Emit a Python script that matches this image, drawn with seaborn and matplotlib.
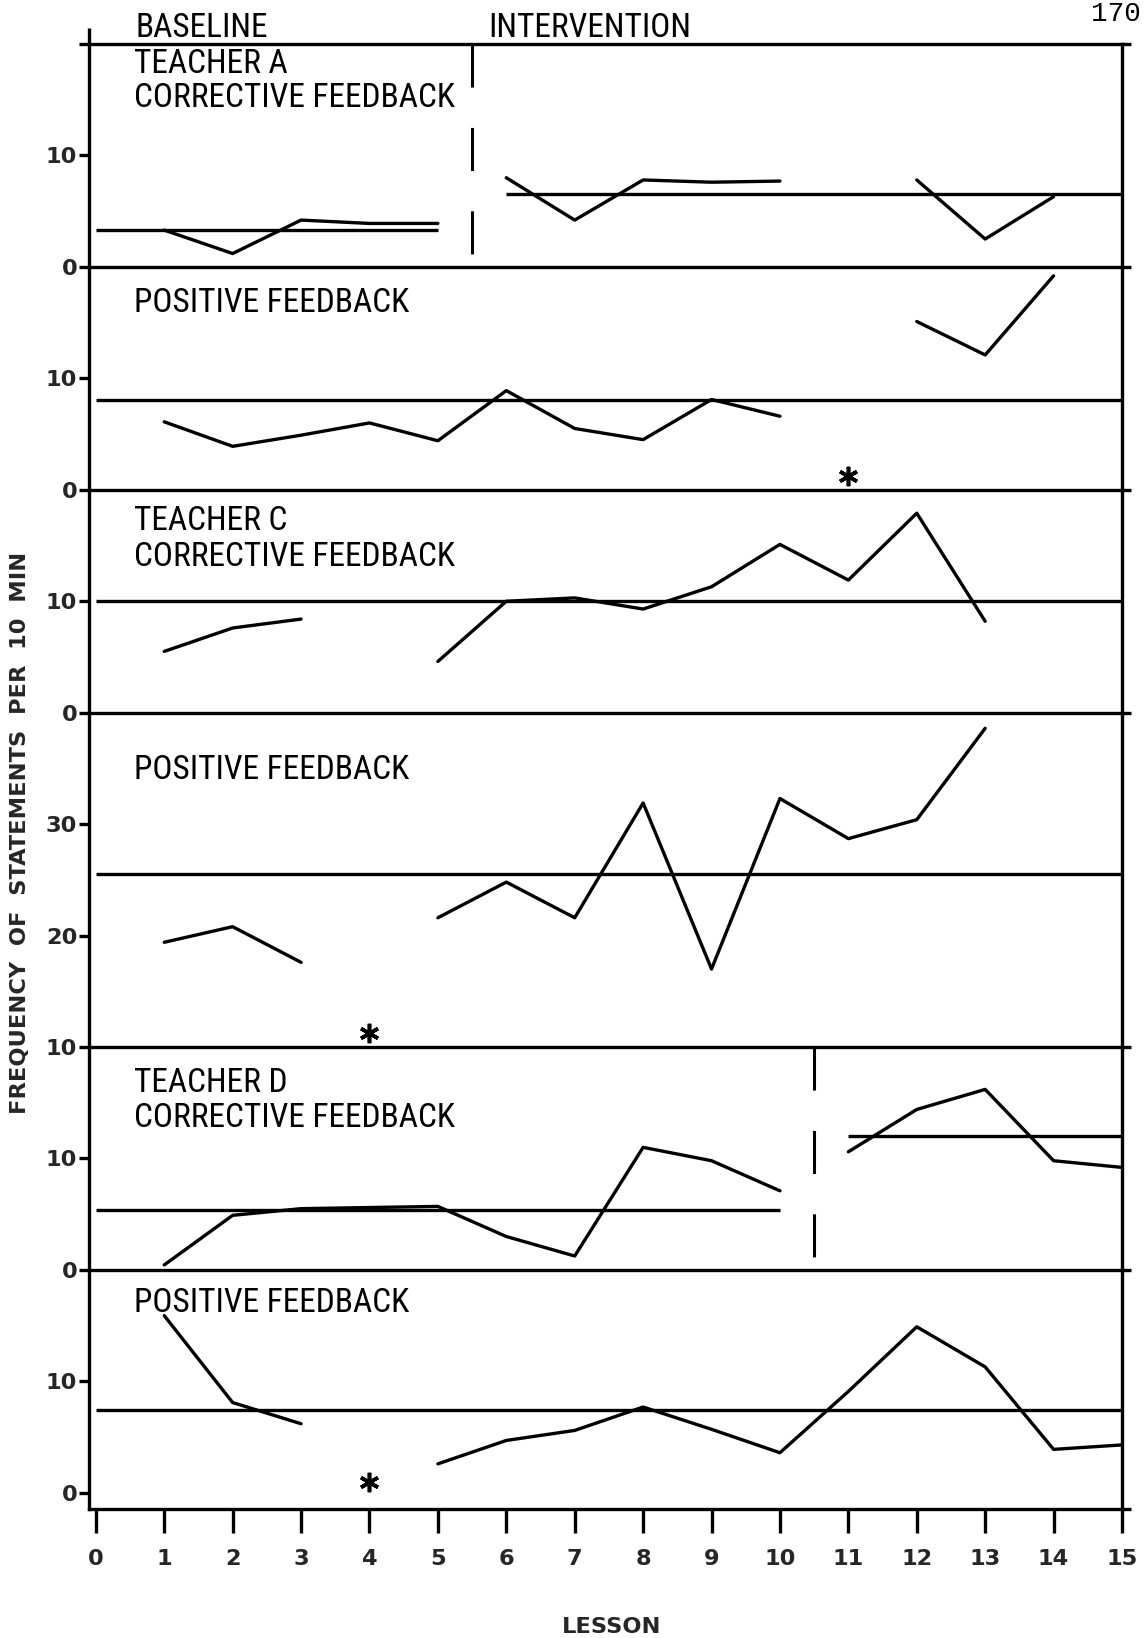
import numpy as np
import pandas as pd
import matplotlib
matplotlib.use("Agg")
import matplotlib.pyplot as plt
import seaborn as sns

# ---------------------------------------------------------------------------
# Frequency of statements per 10 minutes, lessons 1-15 (nan = no observation)
# ---------------------------------------------------------------------------
lessons = list(range(1, 16))
nan = np.nan

a_corrective = [3.3, 1.2, 4.2, 3.9, 3.9, 8.0, 4.2, 7.8, 7.6, 7.7, nan, 7.8, 2.5, 6.3, nan]
a_positive = [6.1, 3.9, 4.9, 6.0, 4.4, 8.9, 5.5, 4.5, 8.1, 6.6, nan, 15.1, 12.1, 19.2, nan]
c_corrective = [5.5, 7.6, 8.4, nan, 4.6, 10.0, 10.3, 9.3, 11.3, 15.1, 11.9, 17.9, 8.2, nan, nan]
c_positive = [19.4, 20.8, 17.6, nan, 21.6, 24.8, 21.6, 31.9, 17.0, 32.3, 28.7, 30.4, 38.6, nan, nan]
d_corrective = [0.45, 4.9, 5.5, 5.6, 5.7, 3.0, 1.25, 11.0, 9.8, 7.1, 10.6, 14.4, 16.2, 9.8, 9.2]
d_positive = [15.9, 8.1, 6.2, nan, 2.6, 4.7, 5.6, 7.7, 5.7, 3.6, 9.1, 14.9, 11.3, 3.9, 4.3]

# Phase mean lines: (from lesson, to lesson, mean)
a_corrective_means = [(0, 5, 3.3), (6, 15, 6.5)]
a_positive_means = [(0, 15, 8.1)]
c_corrective_means = [(0, 15, 10.0)]
c_positive_means = [(0, 15, 25.5)]
d_corrective_means = [(0, 10, 5.4), (11, 15, 12.0)]
d_positive_means = [(0, 15, 7.4)]

# Baseline -> intervention change for Teachers A and D
a_phase_change = 5.5
d_phase_change = 10.5

# Asterisk notes: (lesson, height)
a_positive_note = [(11, 1.2)]
c_positive_note = [(4, 11.25)]
d_positive_note = [(4, 1.0)]

panel_titles = [
    ["TEACHER A", "CORRECTIVE FEEDBACK"],
    ["POSITIVE FEEDBACK"],
    ["TEACHER C", "CORRECTIVE FEEDBACK"],
    ["POSITIVE FEEDBACK"],
    ["TEACHER D", "CORRECTIVE FEEDBACK"],
    ["POSITIVE FEEDBACK"],
]
x_ticks = list(range(0, 16))

# ---------------------------------------------------------------------------
sns.set_theme(style="white")
plt.rcParams["font.family"] = ["DejaVu Sans"]

W, H = 1144, 1638
fig = plt.figure(figsize=(W / 100, H / 100), dpi=100)
fig.patch.set_facecolor("white")

LW = 2.4
INK = "black"
label_font = dict(family=["Roboto Condensed", "Liberation Sans Narrow", "Liberation Sans"],
                  fontsize=24, color=INK)
tick_font = dict(family=["DejaVu Sans"], fontweight="bold", fontsize=16.2)

gs = fig.add_gridspec(
    6, 1, height_ratios=[20, 20, 20, 30, 20, 21.45], hspace=0,
    left=89 / W, right=1122 / W, top=1 - 44 / H, bottom=1 - 1509 / H,
)
axes = [fig.add_subplot(gs[i]) for i in range(6)]

panels = [
    (a_corrective, a_corrective_means, a_phase_change, []),
    (a_positive, a_positive_means, None, a_positive_note),
    (c_corrective, c_corrective_means, None, []),
    (c_positive, c_positive_means, None, c_positive_note),
    (d_corrective, d_corrective_means, d_phase_change, []),
    (d_positive, d_positive_means, None, d_positive_note),
]
ylims = [(0, 20), (0, 20), (0, 20), (10, 40), (0, 20), (-1.45, 20)]
yticks = [[0, 10, 20], [0, 10], [0, 10], [10, 20, 30], [0, 10], [0, 10]]


def segments(values, phase_change):
    """Split a series into connected runs, broken by gaps and phase changes."""
    rows, seg, prev = [], 0, None
    for x, v in zip(lessons, values):
        if np.isnan(v):
            prev = None
            continue
        if prev is None or (phase_change is not None and prev < phase_change < x):
            seg += 1
        rows.append({"lesson": x, "value": v, "segment": seg})
        prev = x
    return pd.DataFrame(rows)


for i, (ax, (vals, means, phase, notes)) in enumerate(zip(axes, panels)):
    ax.patch.set_visible(False)
    df = segments(vals, phase)
    sns.lineplot(data=df, x="lesson", y="value", units="segment", estimator=None,
                 color=INK, lw=LW, ax=ax, legend=False, sort=True)
    for x0, x1, m in means:
        ax.plot([x0, x1], [m, m], color=INK, lw=LW, solid_capstyle="butt")
    if phase is not None:
        ax.plot([phase, phase], [20, 0.75], color=INK, lw=2.2,
                linestyle=(0, (14.1, 13.2)), solid_capstyle="butt", dash_capstyle="butt")
    for nx, ny in notes:
        ax.plot([nx], [ny], marker=(6, 2, 0), ms=14, mew=2.6, color=INK, linestyle="none")

    ax.set_xlim(-0.1, 15)
    ax.set_ylim(*ylims[i])
    ax.set_xlabel("")
    ax.set_ylabel("")
    ax.set_yticks(yticks[i])
    ax.set_yticklabels([("" if (i == 0 and t == 20) else str(t)) for t in yticks[i]], **tick_font)
    ax.tick_params(axis="y", which="both", left=True, length=7, width=LW, pad=1.5,
                   color=INK, direction="out")

    for side in ["left", "right", "bottom"]:
        ax.spines[side].set_visible(True)
        ax.spines[side].set_linewidth(LW)
        ax.spines[side].set_color(INK)
    ax.spines["top"].set_visible(i == 0)
    ax.spines["top"].set_linewidth(LW)
    ax.spines["top"].set_color(INK)

    # short stubs on the right side of each panel boundary
    w_px = ax.get_position().width * W
    stub = 9 / w_px
    ax.plot([1, 1 + stub], [0, 0], transform=ax.transAxes, clip_on=False,
            color=INK, lw=LW, solid_capstyle="butt")
    if i == 0:
        ax.plot([1, 1 + stub], [1, 1], transform=ax.transAxes, clip_on=False,
                color=INK, lw=LW, solid_capstyle="butt")
        ax_h = ax.get_position().height * H
        ax.plot([0, 0], [1, 1 + 16 / ax_h], transform=ax.transAxes, clip_on=False,
                color=INK, lw=LW, solid_capstyle="butt")

    if i < 5:
        ax.set_xticks([])
    else:
        ax.set_xticks(x_ticks)
        ax.set_xticklabels([str(t) for t in x_ticks], **tick_font)
        ax.tick_params(axis="x", bottom=True, length=17, width=LW, pad=12,
                       color=INK, direction="out")

# Panel captions (baselines in pixels from the top)
caption_rows = [[73, 107], [312], [530, 566], [779], [1092, 1127], [1312]]
for lines, ys in zip(panel_titles, caption_rows):
    for txt, y in zip(lines, ys):
        fig.text(134 / W, 1 - y / H, txt, ha="left", va="baseline", **label_font)

fig.text(135 / W, 1 - 37 / H, "BASELINE", ha="left", va="baseline", **label_font)
fig.text(488 / W, 1 - 37 / H, "INTERVENTION", ha="left", va="baseline", **label_font)

fig.text(612 / W, 1 - 1633 / H, "LESSON", ha="center", va="baseline", **tick_font)
fig.text(20 / W, 1 - 833 / H, "FREQUENCY  OF  STATEMENTS  PER  10  MIN",
         rotation=90, ha="center", va="center", **tick_font)
fig.text(1141 / W, 1 - 1 / H, "170", ha="right", va="top",
         family=["Liberation Mono"], fontsize=20, color=INK)

fig.savefig("out.png", dpi=100, facecolor="white")
